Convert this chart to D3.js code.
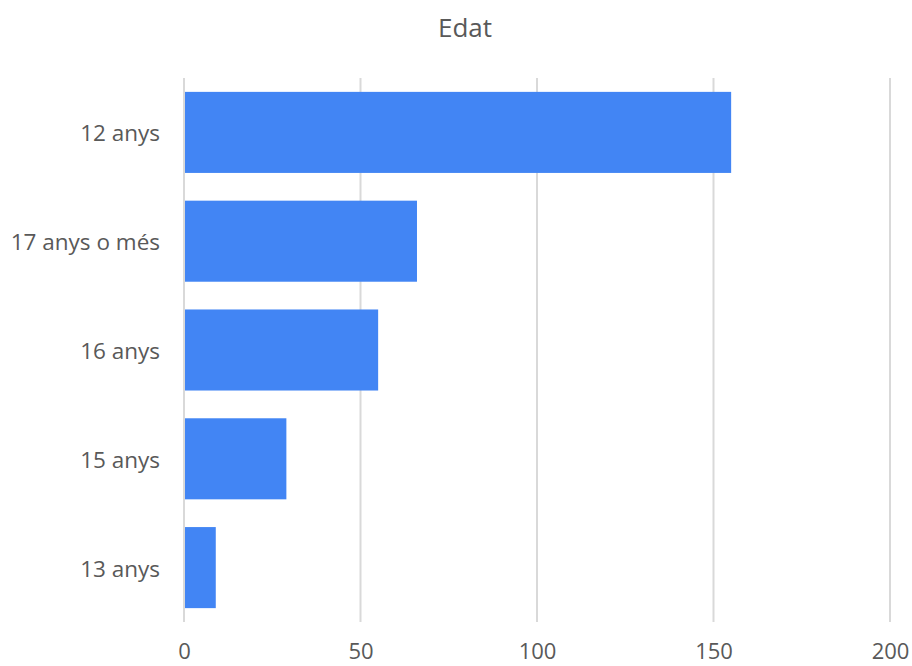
<!DOCTYPE html>
<meta charset="utf-8">
<style>
body {margin: 0; background: #fff;}
text {font-family: "Open Sans", sans-serif; fill: #595959;}
.grid line {stroke: #d9d9d9; stroke-width: 2px;}
</style>
<body>
<script src="https://d3js.org/d3.v7.min.js"></script>
<div id="chart"></div>
</body>
<script>
// data
var categories = ["12 anys", "17 anys o més", "16 anys", "15 anys", "13 anys"];
var values = [155, 66, 55, 29, 9];
var xTicks = [0, 50, 100, 150, 200];
var title = "Edat";

var width = 912,
    height = 666,
    mLeft = 184, mRight = 890,
    mTop = 78, mBottom = 622;

var x = d3.scaleLinear().domain([0, 200]).range([mLeft, mRight]);
var y = d3.scaleBand().domain(categories).range([mTop, mBottom]).paddingInner(0.255).paddingOuter(0.1275);

var svg = d3.select("#chart").append("svg")
    .attr("width", width)
    .attr("height", height);

svg.append("text")
    .attr("x", 465)
    .attr("y", 37)
    .attr("text-anchor", "middle")
    .style("font-size", "26px")
    .text(title);

// gridlines
svg.append("g").attr("class", "grid")
  .selectAll("line").data(xTicks)
  .enter().append("line")
    .attr("x1", function(d) { return x(d); })
    .attr("x2", function(d) { return x(d); })
    .attr("y1", mTop)
    .attr("y2", mBottom);

// bars
var data = categories.map(function(c, i) { return {cat: c, val: values[i]}; });
svg.append("g").selectAll("rect").data(data)
  .enter().append("rect")
    .attr("x", x(0) + 1)
    .attr("y", function(d) { return y(d.cat); })
    .attr("width", function(d) { return x(d.val) - x(0) - 1; })
    .attr("height", y.bandwidth())
    .attr("fill", "#4285f4");

// x axis labels
var xAxis = d3.axisBottom(x).tickValues(xTicks).tickSize(0).tickPadding(21);
svg.append("g")
    .attr("transform", "translate(0," + mBottom + ")")
    .call(xAxis)
    .call(function(g) { g.select(".domain").remove(); })
    .selectAll("text")
    .style("font-size", "22px")
    .attr("fill", "#595959");

// y axis labels
var yAxis = d3.axisLeft(y).tickSize(0).tickPadding(24);
svg.append("g")
    .attr("transform", "translate(" + mLeft + ",0)")
    .call(yAxis)
    .call(function(g) { g.select(".domain").remove(); })
    .selectAll("text")
    .style("font-size", "22.5px")
    .attr("dy", "0.4em")
    .attr("fill", "#595959");
</script>
